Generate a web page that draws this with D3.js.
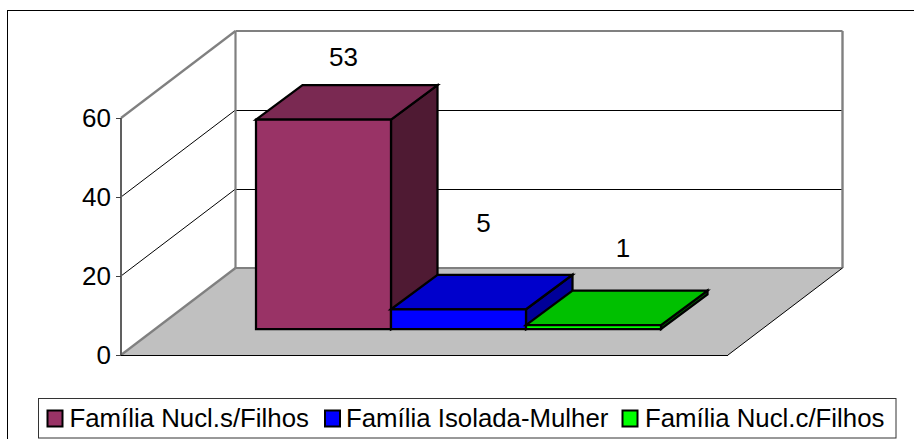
<!DOCTYPE html>
<html><head><meta charset="utf-8">
<script src="https://cdn.jsdelivr.net/npm/d3@7"></script>
<style>html,body{margin:0;padding:0;background:#fff}svg{display:block}text{font-family:"Liberation Sans",Arial,sans-serif;fill:#000}</style>
</head><body><svg id="c" width="914" height="439"></svg>
<script>
const categories = ["Família Nucl.s/Filhos","Família Isolada-Mulher","Família Nucl.c/Filhos"];
const values = [53,5,1];
const yTicks = [0,20,40,60];
const frontColors = ["#993366","#0000ff","#00ff00"];
const topColors = ["#7a2952","#0000cc","#00c000"];
const sideColors = ["#4f1a33","#000099","#006600"];

const svg = d3.select("#c");
const W=914,H=439;
svg.append("rect").attr("x",7.5).attr("y",10.5).attr("width",W).attr("height",H).attr("fill","#fff").attr("stroke","#000").attr("stroke-width",1);

const y = d3.scaleLinear().domain([0,60]).range([355,118]);
const depth = {dx:114.5, dy:-87};
const floorLeft=121, floorRight=728;
const p = a => a.map(q=>q.join(",")).join(" ");
const poly=(pts,fill,stroke,sw)=>svg.append("polygon").attr("points",p(pts)).attr("fill",fill).attr("stroke",stroke||"none").attr("stroke-width",sw||0).attr("stroke-linejoin","miter");
const line=(a,b,c,w)=>svg.append("line").attr("x1",a[0]).attr("y1",a[1]).attr("x2",b[0]).attr("y2",b[1]).attr("stroke",c).attr("stroke-width",w);

// floor
poly([[floorLeft,y(0)],[floorLeft+depth.dx,y(0)+depth.dy],[floorRight+depth.dx,y(0)+depth.dy],[floorRight,y(0)]],"#c0c0c0");
// gridlines
yTicks.slice(1,3).forEach(t=>{
  line([floorLeft,y(t)],[floorLeft+depth.dx,y(t)+depth.dy],"#000",1);
  line([floorLeft+depth.dx,y(t)+depth.dy+0.5],[floorRight+depth.dx,y(t)+depth.dy+0.5],"#000",1);
});
// walls
const wall="#808080";
line([floorLeft,y(60)],[floorLeft+depth.dx,y(60)+depth.dy],wall,2.2);
line([floorLeft+depth.dx,y(60)+depth.dy],[floorRight+depth.dx,y(60)+depth.dy],wall,2.2);
line([floorLeft+depth.dx,y(60)+depth.dy],[floorLeft+depth.dx,y(0)+depth.dy],wall,2.2);
line([floorRight+depth.dx,y(60)+depth.dy],[floorRight+depth.dx,y(0)+depth.dy],wall,2.4);
line([floorLeft+depth.dx,y(0)+depth.dy],[floorRight+depth.dx,y(0)+depth.dy],wall,2.2);
line([floorLeft,y(0)],[floorLeft+depth.dx,y(0)+depth.dy],wall,2.2);
line([floorLeft,y(0)+0.5],[floorRight,y(0)+0.5],"#000",1);
line([floorRight,y(0)],[floorRight+depth.dx,y(0)+depth.dy],"#000",1);
// left axis
line([floorLeft,y(60)],[floorLeft,y(0)],"#606060",2);
const ax=d3.axisLeft(y).tickValues(yTicks).tickSize(5).tickPadding(5);
const g=svg.append("g").attr("transform",`translate(${floorLeft},0)`).call(ax);
g.select(".domain").remove();
g.selectAll("line").attr("stroke","#404040");
g.selectAll("text").style("font-size","26px").style("font-family",'"Liberation Sans",Arial,sans-serif').attr("fill","#000");

// bars
const x=d3.scaleBand().domain(categories).range([256,661]).padding(0);
const baseY=329, bd={dx:46.5,dy:-34.5};
values.forEach((v,i)=>{
  const c=categories[i], x0=x(c), x1=x0+x.bandwidth();
  const top=baseY-(y(0)-y(v));
  poly([[x1,top],[x1+bd.dx,top+bd.dy],[x1+bd.dx,baseY+bd.dy],[x1,baseY]],sideColors[i],"#000",2.25);
  poly([[x0,top],[x0+bd.dx,top+bd.dy],[x1+bd.dx,top+bd.dy],[x1,top]],topColors[i],"#000",2.25);
  poly([[x0,top],[x1,top],[x1,baseY],[x0,baseY]],frontColors[i],"#000",2.25);
});
// data labels
const labelDx=[20.5,25.5,30], labelDy=[-54,-77,-68];
values.forEach((v,i)=>{
  const c=categories[i], x1=x(c)+x.bandwidth()/2;
  const top=baseY-(y(0)-y(v));
  svg.append("text").attr("x",x1+bd.dx*0.42+labelDx[i]-20).attr("y",top+labelDy[i]).attr("text-anchor","middle").style("font-size","26px").text(v);
});
// legend
svg.append("rect").attr("x",38.5).attr("y",398.5).attr("width",857.5).attr("height",39.5).attr("fill","#fff").attr("stroke","#333").attr("stroke-width",1);
const legX=[47.5,325,622.5], legT=[69.5,346,645];
categories.forEach((c,i)=>{
  svg.append("rect").attr("x",legX[i]).attr("y",410.5).attr("width",15).attr("height",16).attr("fill",frontColors[i]).attr("stroke","#000").attr("stroke-width",2);
  svg.append("text").attr("x",legT[i]).attr("y",427).style("font-size","25.8px").text(c);
});
</script></body></html>
